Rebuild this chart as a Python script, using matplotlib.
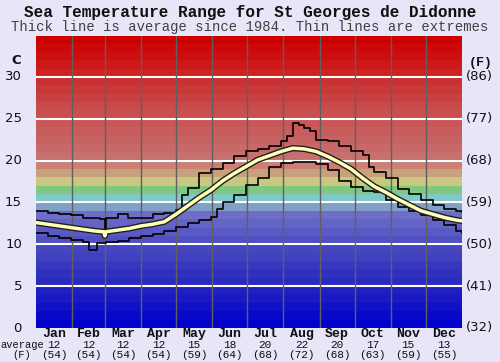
import matplotlib
matplotlib.use("Agg")
import matplotlib.pyplot as plt
import matplotlib.patheffects as pe
import numpy as np

months = ["Jan", "Feb", "Mar", "Apr", "May", "Jun", "Jul", "Aug", "Sep", "Oct", "Nov", "Dec"]
month_days = [31, 28, 31, 30, 31, 30, 31, 31, 30, 31, 30, 31]
month_avg_c = [12, 12, 12, 12, 15, 18, 20, 22, 20, 17, 15, 13]
month_avg_f = [54, 54, 54, 54, 59, 64, 68, 72, 68, 63, 59, 55]

c_ticks = [0, 5, 10, 15, 20, 25, 30]
f_labels = ["(32)", "(41)", "(50)", "(59)", "(68)", "(77)", "(86)"]

avg_days = [0, 10, 20, 30, 40, 50, 58, 59, 60, 70, 80, 90, 100, 110, 120, 130, 140, 150,
            160, 170, 180, 190, 200, 210, 220, 230, 240, 250, 260, 270, 280, 290, 300,
            310, 320, 330, 340, 350, 360, 365]
avg_temp = [12.6, 12.4, 12.2, 12.0, 11.8, 11.6, 11.5, 11.0, 11.5, 11.7, 11.9, 12.2, 12.4,
            12.7, 13.6, 14.6, 15.6, 16.5, 17.6, 18.5, 19.3, 20.1, 20.6, 21.1, 21.5, 21.4,
            21.1, 20.5, 19.8, 19.0, 17.9, 16.9, 16.2, 15.4, 14.7, 14.0, 13.6, 13.2, 12.9, 12.8]

max_days = [0, 10, 20, 30, 40, 50, 55, 59, 60, 70, 79, 90, 100, 110, 120, 125, 130, 140,
            150, 160, 170, 180, 190, 200, 210, 215, 220, 225, 230, 235, 240, 250, 260, 270,
            280, 285, 290, 300, 310, 320, 330, 340, 350, 360, 365]
max_temp = [14.0, 13.8, 13.6, 13.5, 13.2, 13.1, 13.0, 11.7, 13.1, 13.6, 13.1, 13.2, 13.6,
            13.8, 14.1, 15.9, 16.7, 18.5, 19.0, 19.7, 20.5, 21.1, 21.4, 21.8, 22.4, 23.0,
            24.5, 24.3, 23.9, 23.5, 22.5, 22.3, 21.8, 21.1, 20.7, 19.3, 18.7, 17.9, 16.6,
            16.0, 15.3, 14.7, 14.2, 14.0, 13.9]

min_days = [0, 10, 20, 30, 40, 45, 52, 60, 70, 80, 90, 100, 110, 120, 130, 140, 150, 155,
            160, 170, 180, 190, 200, 210, 220, 230, 240, 250, 260, 270, 280, 290, 300, 310,
            320, 330, 340, 350, 360, 365]
min_temp = [11.3, 11.0, 10.8, 10.5, 10.3, 9.3, 10.2, 10.3, 10.4, 10.7, 11.0, 11.2, 11.6,
            12.1, 12.5, 12.9, 13.3, 14.2, 15.1, 15.9, 17.1, 17.9, 19.3, 19.7, 19.9, 19.8,
            19.6, 18.9, 17.6, 16.8, 16.4, 16.2, 15.3, 14.5, 14.0, 13.5, 12.9, 12.3, 11.6, 11.3]

# background band colours, one per degree from 0 to 35
band_colors = (
    ["#0202cc", "#0808c8", "#1010c6", "#1818c4", "#2020c2",
     "#2a2ac0", "#3030be", "#3838be", "#4040c0", "#4646c0",
     "#5050c2", "#5a5ac4", "#6464c6", "#6e6ec8", "#80a0c8",
     "#80c8c8", "#80c880", "#c8c880", "#c8a07c", "#cc8074",
     "#c87070", "#c86868", "#c86262", "#c85c5c", "#c85656",
     "#c85050", "#c84a4a", "#c84040", "#c83838", "#c83030",
     "#cc2222", "#cc1818", "#cc1010", "#cc0808", "#cc0000"]
)

W, H = 500, 362
fig = plt.figure(figsize=(5.0, 3.62), dpi=100, facecolor="#e6e6f8")
ax = fig.add_axes([36 / W, 1 - 328 / H, 426 / W, 292 / H])
ax.set_xlim(0, 365)
ax.set_ylim(0, 34.9)

for i, col in enumerate(band_colors):
    ax.axhspan(i, i + 1, color=col, lw=0, zorder=0)

for t in c_ticks[1:]:
    ax.axhline(t, color="white", lw=1.5, zorder=1)

edges = np.cumsum(month_days)
for e in edges[:-1]:
    ax.axvline(e, color="#606060", lw=1, zorder=1)

ax.plot(max_days, max_temp, drawstyle="steps-post", color="black", lw=1.2, zorder=3)
ax.plot(min_days, min_temp, drawstyle="steps-post", color="black", lw=1.2, zorder=3)
ax.plot(avg_days, avg_temp, color="#ffffb8", lw=2.5, zorder=4,
        path_effects=[pe.Stroke(linewidth=4.5, foreground="#202020"), pe.Normal()])

for s in ax.spines.values():
    s.set_visible(False)
ax.set_xticks([])
ax.set_yticks([])

def fx(px):
    return px / W

def fy(py):
    return 1 - py / H

mono = "Liberation Mono"
fig.text(0.5, fy(13), "Sea Temperature Range for St Georges de Didonne", ha="center", va="center",
         family=mono, weight="bold", fontsize=11.5, color="#101010")
fig.text(0.5, fy(27), "Thick line is average since 1984. Thin lines are extremes", ha="center",
         va="center", family=mono, fontsize=10, color="#404040")

for t in c_ticks:
    y = 328 - t * (292 / 34.9)
    fig.text(fx(22), fy(y), str(t), ha="right", va="center", fontsize=9.5, color="#101010")
for t, lab in zip(c_ticks, f_labels):
    y = 328 - t * (292 / 34.9)
    fig.text(fx(466), fy(y), lab, ha="left", va="center", fontsize=9.5, color="#101010")
fig.text(fx(16), fy(61), "C", ha="center", va="center", fontsize=9.5, weight="bold", color="#101010")
fig.text(fx(481), fy(63), "(F)", ha="center", va="center", family=mono, fontsize=9.5,
         weight="bold", color="#101010")

starts = np.concatenate([[0], edges[:-1]])
for m, s, d, c, f in zip(months, starts, month_days, month_avg_c, month_avg_f):
    xm = 36 + (s + d / 2) * 426 / 365
    fig.text(fx(xm), fy(334), m, ha="center", va="center", family=mono, weight="bold",
             fontsize=9.5, color="#101010")
    fig.text(fx(xm), fy(345), str(c), ha="center", va="center", family=mono, fontsize=8,
             color="#101010")
    fig.text(fx(xm), fy(355), "(%d)" % f, ha="center", va="center", family=mono, fontsize=8,
             color="#101010")
fig.text(fx(22), fy(345), "average", ha="center", va="center", family=mono, fontsize=7.5,
         color="#101010")
fig.text(fx(22), fy(355), "(F)", ha="center", va="center", family=mono, fontsize=7.5,
         color="#101010")

fig.savefig("out.png", dpi=100, facecolor=fig.get_facecolor())
